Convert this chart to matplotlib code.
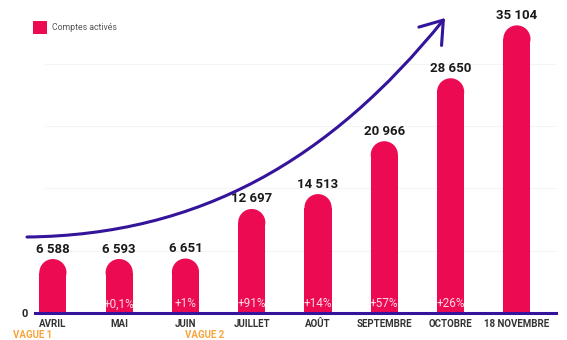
import matplotlib
matplotlib.use("Agg")
import matplotlib.pyplot as plt
import matplotlib.patches as patches
from matplotlib.path import Path

months = ["AVRIL", "MAI", "JUIN", "JUILLET", "AOÛT", "SEPTEMBRE", "OCTOBRE", "18 NOVEMBRE"]
accounts = [6588, 6593, 6651, 12697, 14513, 20966, 28650, 35104]
growth = ["", "+0,1%", "+1%", "+91%", "+14%", "+57%", "+26%", ""]
value_labels = ["6 588", "6 593", "6 651", "12 697", "14 513", "20 966", "28 650", "35 104"]
waves = ["VAGUE 1", "VAGUE 2"]

PINK = "#EC0B52"
PURPLE = "#33149B"
ORANGE = "#F7A53B"

plt.rcParams['font.family'] = ['Roboto', 'DejaVu Sans']

W, H = 567, 340
fig = plt.figure(figsize=(W / 100, H / 100), dpi=100)
ax_left, ax_right, ax_base = 35, 556, 313
ax = fig.add_axes([ax_left / W, (H - ax_base) / H, (ax_right - ax_left) / W, ax_base / H])

xmin, xmax = -0.27, 7.59
ymax = 38200
ax.set_xlim(xmin, xmax)
ax.set_ylim(0, ymax)

# faint gridlines
for gy in [7600, 15200, 22800, 30400]:
    ax.axhline(gy, xmin=0.02, color="#f4f4f4", lw=0.8, zorder=0)

# bars with rounded tops
bw = 0.41
px_per_x = (ax_right - ax_left) / (xmax - xmin)
px_per_y = ax_base / ymax
r_px = bw * px_per_x / 2
ry = r_px / px_per_y
for i, v in enumerate(accounts):
    ax.add_patch(patches.Rectangle((i - bw / 2, 0), bw, v - ry, facecolor=PINK,
                                   edgecolor="none", zorder=2))
    ax.add_patch(patches.Ellipse((i, v - ry), bw, 2 * ry, facecolor=PINK,
                                 edgecolor="none", zorder=2))
    ax.annotate(value_labels[i], (i, v), xytext=(0, 2.5), textcoords="offset points",
                ha="center", va="bottom", fontsize=9.5, fontweight="bold", color="#1a1a1a")
    if growth[i]:
        ax.annotate(growth[i], (i, 0), xytext=(0, 6.5), textcoords="offset points",
                    ha="center", va="center", fontsize=8.5, color="white", alpha=0.85,
                    zorder=4)

ax.axhline(0, color=PURPLE, lw=2.2, zorder=5, clip_on=False)

ax.set_xticks(range(len(months)))
ax.set_xticklabels(months, fontsize=7, fontweight="bold", color="#333333")
ax.set_yticks([0])
ax.set_yticklabels(["0"], fontsize=8, fontweight="bold", color="#222222")
ax.tick_params(length=0)
ax.tick_params(axis="x", pad=4)
ax.tick_params(axis="y", pad=5)
for s in ax.spines.values():
    s.set_visible(False)

# wave markers
fig.text(33 / W, 1 - 335 / H, waves[0], ha="center", va="center", fontsize=7,
         fontweight="bold", color=ORANGE)
fig.text(205 / W, 1 - 335 / H, waves[1], ha="center", va="center", fontsize=7,
         fontweight="bold", color=ORANGE)

# legend
fig.add_artist(patches.Rectangle((33 / W, 1 - 34 / H), 14 / W, 13 / H,
                                 transform=fig.transFigure, facecolor=PINK, edgecolor="none"))
fig.text(52 / W, 1 - 27.5 / H, "Comptes activés", ha="left", va="center",
         fontsize=6.3, color="#555555")

# growth arrow
pts = [(27, 237), (200, 235), (330, 160), (445, 18)]
verts = [(x / W, 1 - y / H) for x, y in pts]
path = Path(verts, [Path.MOVETO, Path.CURVE4, Path.CURVE4, Path.CURVE4])
arrow = patches.FancyArrowPatch(path=path, transform=fig.transFigure,
                                arrowstyle="->,head_length=1.0,head_width=0.7",
                                mutation_scale=15, color=PURPLE, lw=2.2,
                                capstyle="round", joinstyle="round", zorder=6)
fig.add_artist(arrow)

fig.savefig("out.png", dpi=100, facecolor="white")
